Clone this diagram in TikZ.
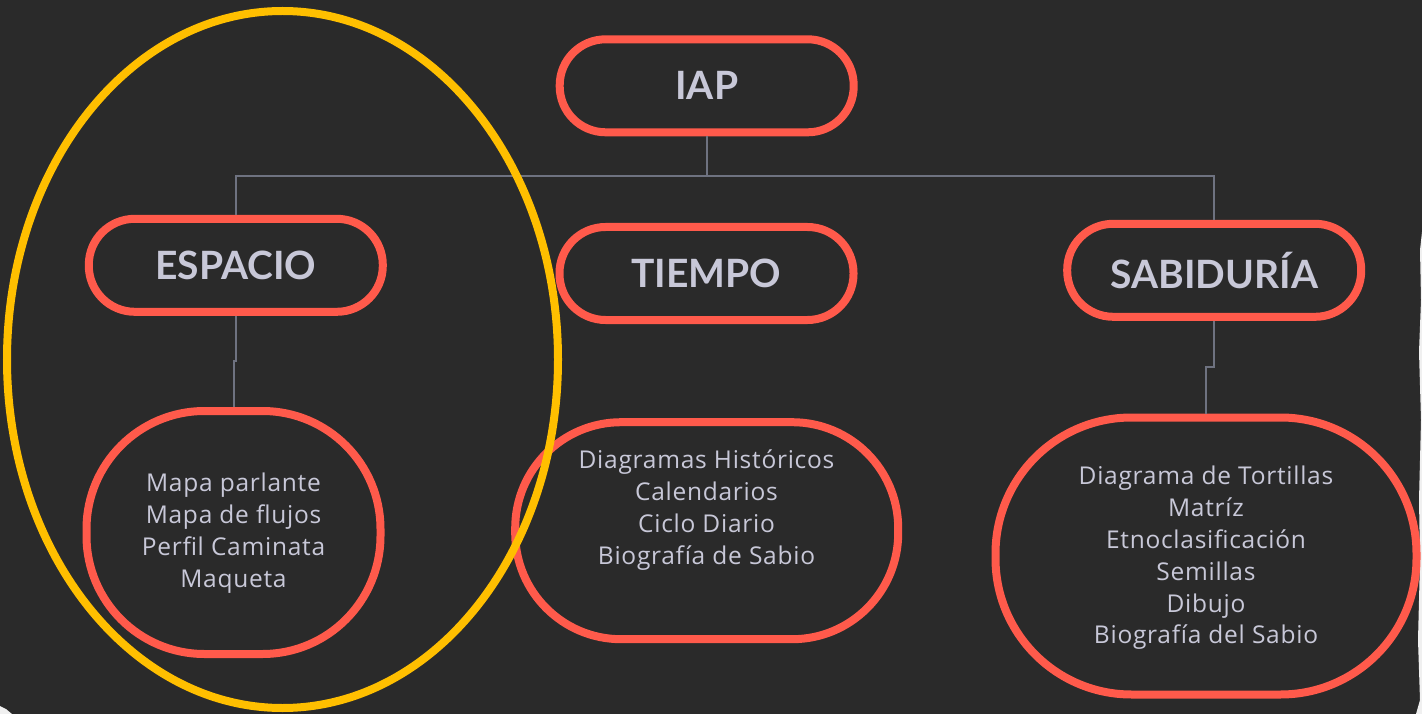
\documentclass[tikz,border=0pt]{standalone}
\usepackage{fontspec}
\setmainfont{Lato}
\newfontfamily\bodyfont[LetterSpace=3]{Open Sans}
\definecolor{bg}{HTML}{2A2A2A}
\definecolor{redline}{HTML}{FF5A4B}
\definecolor{yel}{HTML}{FFBF00}
\definecolor{txt}{HTML}{C8C8D8}
\definecolor{conncol}{HTML}{6E7280}
\tikzset{
  head/.style={draw=redline, line width=8pt, rounded corners=46pt, minimum width=294pt, minimum height=93pt, inner sep=0pt, text=txt, font=\bfseries\fontsize{39}{39}\selectfont},
  leaf/.style={draw=redline, line width=8pt, inner sep=0pt},
  leaftext/.style={align=center, text=txt, inner sep=0pt, font=\bodyfont\fontsize{24.5}{31.8}\selectfont},
  conn/.style={draw=conncol, line width=2pt},
  hilite/.style={draw=yel, line width=8pt}
}
\begin{document}
\begin{tikzpicture}[x=1pt,y=-1pt]
\useasboundingbox (0,0) rectangle (1422,714);
\fill[bg] (0,0) rectangle (1422,714);
% torn paper edges
\fill[white!88!gray] (1422,232) -- (1420,250) -- (1421,300) -- (1419,352) -- (1421,420) -- (1419,500) -- (1420,560) -- (1418,640) -- (1420,700) -- (1416,714) -- (1422,714) -- cycle;
\fill[white!88!gray] (0,706) -- (6,709) -- (12,714) -- (0,714) -- cycle;

% header nodes
\node[head] (iap) at (706.7,85.8) {IAP};
\node[head] (esp) at (235.8,265.3) {ESPACIO};
\node[head] (tie) at (706.5,273.5) {TIEMPO};
\node[head] (sab) at (1214.2,270.3) {SABIDURÍA};

% leaf shapes
\node[leaf, minimum width=294pt, minimum height=243pt, rounded corners=118pt] (espL) at (233.5,532.5) {};
\node[leaf, minimum width=383pt, minimum height=217pt, rounded corners=106pt] (tieL) at (706.7,530.7) {};
\node[leaf, minimum width=421pt, minimum height=277pt, rounded corners=136pt] (sabL) at (1206,556) {};

% leaf texts
\node[leaftext] (espT) at (233.5,533) {Mapa parlante\\Mapa de flujos\\Perfil Caminata\\Maqueta};
\node[leaftext] (tieT) at (706.5,510) {Diagramas Históricos\\Calendarios\\Ciclo Diario\\Biografía de Sabio};
\node[leaftext] (sabT) at (1206,558) {Diagrama de Tortillas\\Matríz\\Etnoclasificación\\Semillas\\Dibujo\\Biografía del Sabio};

% connectors
\coordinate (hub) at (706.7,176.5);
\coordinate (espJ) at (234.5,360.5);
\coordinate (sabJ) at (1210,367);
\draw[conn] (iap.south) -- (hub) -| (esp.north);
\draw[conn] (hub) -| (sab.north);
\draw[conn] (esp.south) |- (espJ) -| (espL.north);
\draw[conn] (sab.south) |- (sabJ) -| (sabL.north);

% highlight ellipse
\draw[hilite] (282.5,359.5) ellipse [x radius=275.5, y radius=348.5];
\end{tikzpicture}
\end{document}
